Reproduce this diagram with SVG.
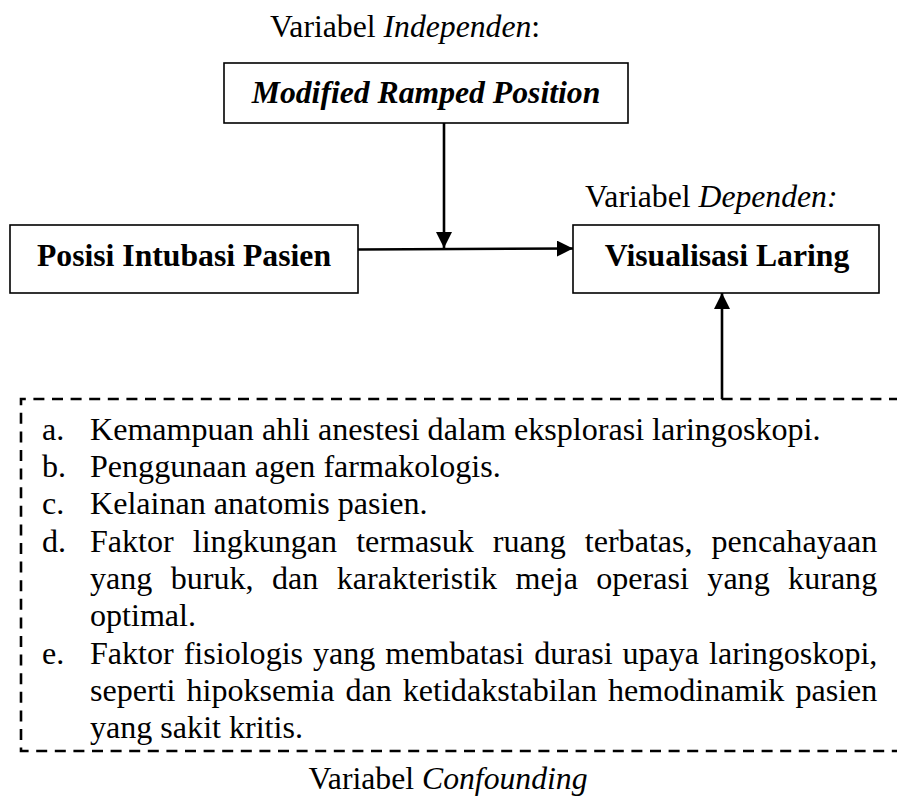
<svg xmlns="http://www.w3.org/2000/svg" width="897" height="805" viewBox="0 0 897 805">
<style>
  text { font-family: "Liberation Serif", "Times New Roman", serif; font-size: 31.7px; fill: #000; }
  .b { font-weight: bold; }
  .i { font-style: italic; }
  .li { font-size: 32.1px; }
  .box { fill: #fff; stroke: #000; stroke-width: 1.6; }
  .conn { fill: none; stroke: #000; stroke-width: 2.6; }
  .dash { fill: none; stroke: #000; stroke-width: 2.6; stroke-dasharray: 11 7.6; }
</style>
<defs>
  <marker id="arr" markerUnits="userSpaceOnUse" markerWidth="16" markerHeight="16" viewBox="0 0 16 16" refX="16" refY="8" orient="auto">
    <path d="M0,0 L16,8 L0,16 Z" fill="#000"/>
  </marker>
</defs>

<g id="label-independen">
  <text x="270" y="37">Variabel <tspan class="i">Independen</tspan>:</text>
</g>
<g id="label-dependen">
  <text x="585" y="207">Variabel <tspan class="i">Dependen:</tspan></text>
</g>

<g id="node-modified">
  <rect class="box" x="224" y="63" width="404" height="60"/>
  <text class="b i" x="426" y="103" text-anchor="middle">Modified Ramped Position</text>
</g>
<g id="node-posisi">
  <rect class="box" x="10" y="225" width="348" height="68"/>
  <text class="b" x="184" y="266" text-anchor="middle">Posisi Intubasi Pasien</text>
</g>
<g id="node-visualisasi">
  <rect class="box" x="573" y="225" width="306" height="68"/>
  <text class="b" x="727" y="266" text-anchor="middle">Visualisasi Laring</text>
</g>

<g id="connectors">
  <line class="conn" x1="358" y1="249.5" x2="573" y2="248.5" marker-end="url(#arr)"/>
  <line class="conn" x1="444" y1="123" x2="444" y2="248" marker-end="url(#arr)"/>
  <line class="conn" x1="722" y1="399" x2="722" y2="293" marker-end="url(#arr)"/>
</g>

<g id="node-confounding">
  <path class="dash" d="M 900 399 H 21 V 751 H 900"/>
  <text class="li" x="42" y="440">a.</text>
  <text class="li" x="90" y="440">Kemampuan ahli anestesi dalam eksplorasi laringoskopi.</text>
  <text class="li" x="42" y="477">b.</text>
  <text class="li" x="90" y="477">Penggunaan agen farmakologis.</text>
  <text class="li" x="42" y="514">c.</text>
  <text class="li" x="90" y="514">Kelainan anatomis pasien.</text>
  <text class="li" x="42" y="551.5">d.</text>
  <text class="li" x="90" y="551.5" word-spacing="11">Faktor lingkungan termasuk ruang terbatas, pencahayaan</text>
  <text class="li" x="90" y="589" word-spacing="10.4">yang buruk, dan karakteristik meja operasi yang kurang</text>
  <text class="li" x="90" y="626">optimal.</text>
  <text class="li" x="42" y="663.5">e.</text>
  <text class="li" x="90" y="663.5" word-spacing="1.9">Faktor fisiologis yang membatasi durasi upaya laringoskopi,</text>
  <text class="li" x="90" y="701" word-spacing="3">seperti hipoksemia dan ketidakstabilan hemodinamik pasien</text>
  <text class="li" x="90" y="738">yang sakit kritis.</text>
</g>

<g id="label-confounding">
  <text x="448" y="789" text-anchor="middle">Variabel <tspan class="i">Confounding</tspan></text>
</g>
</svg>
